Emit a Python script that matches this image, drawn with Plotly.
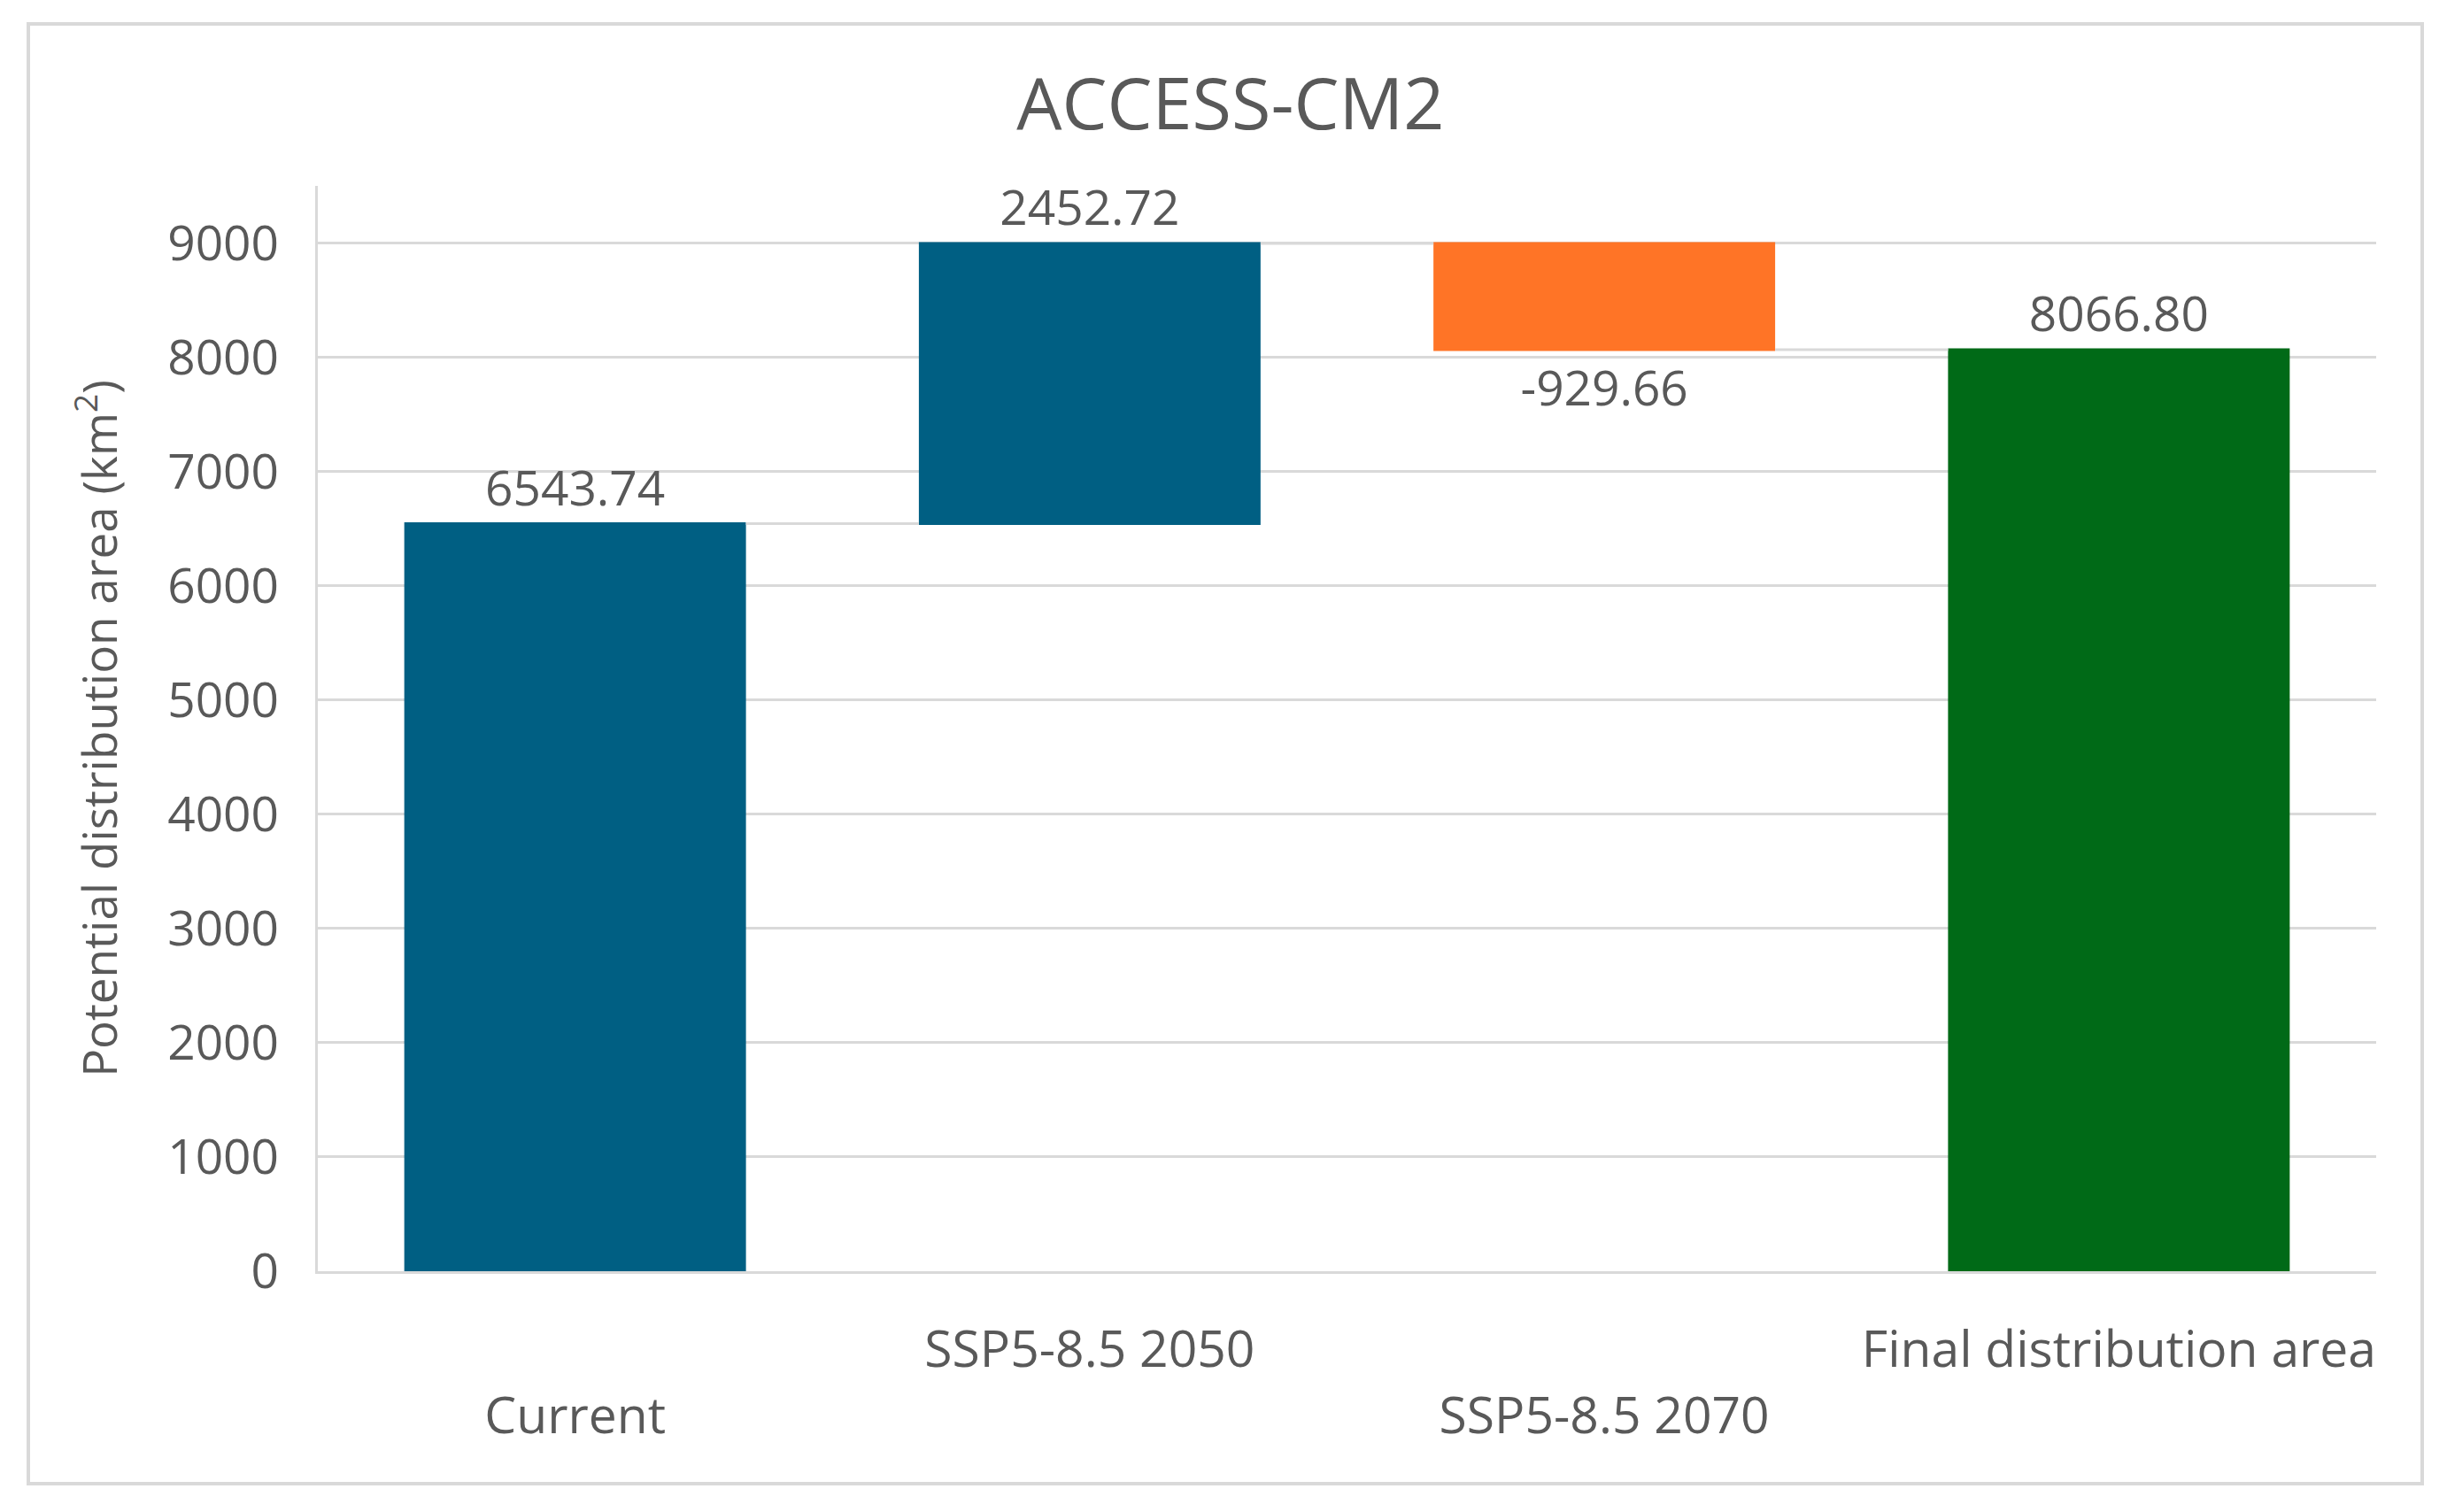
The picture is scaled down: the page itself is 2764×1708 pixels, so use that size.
import plotly.graph_objects as go

categories = ["Current", "SSP5-8.5 2050", "SSP5-8.5 2070", "Final distribution area"]
tick_text = ["<br>Current", "SSP5-8.5 2050", "<br>SSP5-8.5 2070", "Final distribution area"]
values = [6543.74, 2452.72, -929.66, 8066.80]
measures = ["relative", "relative", "relative", "total"]
labels = [f"{v:.2f}" for v in values]
y_ticks = [0, 1000, 2000, 3000, 4000, 5000, 6000, 7000, 8000, 9000]

TEXT = "#595959"
GRID = "#d9d9d9"
FONT = "Open Sans"

L, R, T, B = 351, 88, 202, 280
W, H = 2764, 1708
PW, PH = W - L - R, H - T - B

fig = go.Figure(go.Waterfall(
    x=categories,
    y=values,
    measure=measures,
    text=labels,
    textposition="outside",
    textfont=dict(size=55, color=TEXT, family=FONT),
    cliponaxis=False,
    increasing=dict(marker=dict(color="#005F83")),
    decreasing=dict(marker=dict(color="#FF7426")),
    totals=dict(marker=dict(color="#006A17")),
    connector=dict(line=dict(color=GRID, width=3)),
    showlegend=False,
))

fig.update_layout(
    width=W, height=H,
    margin=dict(l=L, r=R, t=T, b=B),
    paper_bgcolor="white", plot_bgcolor="white",
    waterfallgap=0.336,
    font=dict(family=FONT, color=TEXT),
    title=dict(text="ACCESS-CM2", x=0.5, xanchor="center", xref="container",
               y=1 - 110 / H, yanchor="middle", yref="container",
               font=dict(size=81, color=TEXT, family=FONT)),
)

fig.update_xaxes(
    tickmode="array", tickvals=categories, ticktext=tick_text,
    tickfont=dict(size=57, color=TEXT, family=FONT),
    showline=True, linecolor=GRID, linewidth=3,
    showgrid=False, ticks="", ticklabelstandoff=37,
)
fig.update_yaxes(
    range=[0, 9500], tickvals=y_ticks,
    tickfont=dict(size=55, color=TEXT, family=FONT),
    showgrid=True, gridcolor=GRID, gridwidth=3,
    zeroline=False,
    showline=True, linecolor=GRID, linewidth=3,
    ticks="", ticklabelstandoff=30,
    title=dict(text="Potential distribution area (km<sup>2</sup>)",
               font=dict(size=53, color=TEXT, family=FONT), standoff=40),
)

# outer chart border (pixel box converted to paper coordinates)
bx0, bx1, by0, by1 = 24, 2728, 19, 1668
fig.add_shape(type="rect", xref="paper", yref="paper",
              x0=(bx0 - L) / PW, x1=(bx1 - L) / PW,
              y0=(H - B - by1) / PH, y1=(H - B - by0) / PH,
              line=dict(color=GRID, width=4), fillcolor="rgba(0,0,0,0)")

fig.write_html("out.html")
